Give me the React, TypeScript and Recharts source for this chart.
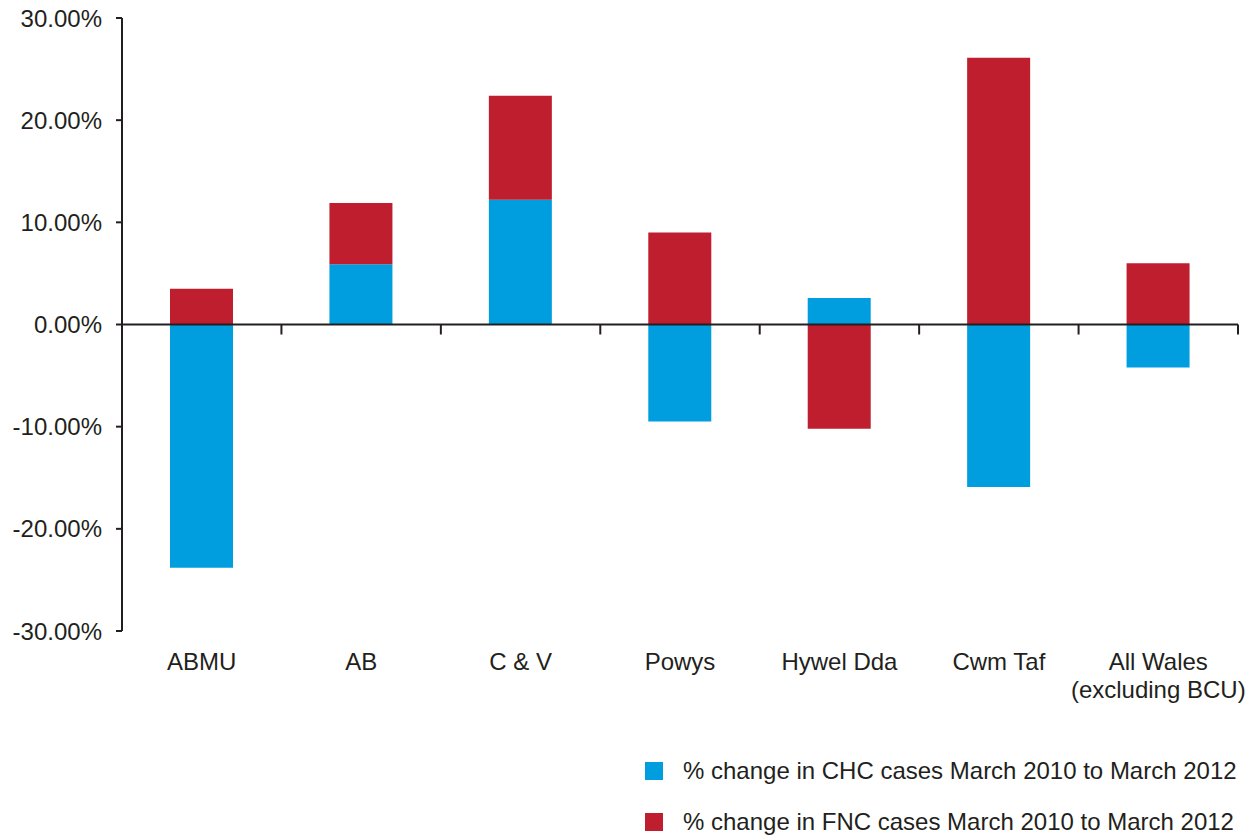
import React from 'react';
import { BarChart, Bar, XAxis, YAxis, ReferenceLine, Legend } from 'recharts';

const categories = ['ABMU', 'AB', 'C & V', 'Powys', 'Hywel Dda', 'Cwm Taf', 'All Wales\n(excluding BCU)'];
const chcChange = [-23.8, 5.9, 12.2, -9.5, 2.6, -15.9, -4.2];
const fncChange = [3.5, 6.0, 10.2, 9.0, -10.2, 26.1, 6.0];
const yTicks = [-30, -20, -10, 0, 10, 20, 30];

const seriesNames = {
  chc: '% change in CHC cases March 2010 to March 2012',
  fnc: '% change in FNC cases March 2010 to March 2012',
};

const data = categories.map((name, i) => ({
  name,
  chc: chcChange[i],
  fnc: fncChange[i],
}));

const BLUE = '#009EDF';
const RED = '#BE1E2E';
const INK = '#231F20';
const FONT = '"Liberation Sans", Arial, sans-serif';

const CategoryTick = (props: any) => {
  const { x, y, payload } = props;
  const lines = String(payload.value).split('\n');
  return (
    <text x={x} y={y} textAnchor="middle" fill={INK} fontSize={24} fontFamily={FONT}>
      {lines.map((line, i) => (
        <tspan key={i} x={x} dy={i === 0 ? '0.71em' : 28}>
          {line}
        </tspan>
      ))}
    </text>
  );
};

// zero line with small tick marks at the category boundaries
const ZeroAxis = (props: any) => {
  const { x1, x2, y1 } = props;
  const n = categories.length;
  const step = (x2 - x1) / n;
  return (
    <g>
      <line x1={x1} x2={x2} y1={y1} y2={y1} stroke={INK} strokeWidth={2} />
      {categories.map((_, i) => (
        <line key={i} x1={x1 + step * (i + 1)} x2={x1 + step * (i + 1)} y1={y1} y2={y1 + 10} stroke={INK} strokeWidth={2} />
      ))}
    </g>
  );
};

const LegendBox = (props: any) => {
  const items = props.payload || [];
  return (
    <div style={{ fontFamily: FONT, fontSize: 24, color: INK }}>
      {items.map((item: any, i: number) => (
        <div
          key={i}
          style={{ display: 'flex', alignItems: 'center', height: 28, marginBottom: 23, whiteSpace: 'nowrap' }}
        >
          <span style={{ width: 18, height: 18, background: item.color, display: 'inline-block', marginRight: 20 }} />
          <span>{item.value}</span>
        </div>
      ))}
    </div>
  );
};

export default function App() {
  return (
    <div style={{ width: 1248, height: 835 }}>
      <style>{'body { margin: 0; }'}</style>
      <BarChart
        width={1248}
        height={835}
        data={data}
        stackOffset="sign"
        barSize={63}
        margin={{ top: 18, right: 10, left: 0, bottom: 144 }}
      >
        <XAxis
          dataKey="name"
          interval={0}
          axisLine={false}
          tickLine={false}
          tickSize={0}
          tickMargin={22}
          height={60}
          tick={<CategoryTick />}
        />
        <YAxis
          domain={[-30, 30]}
          ticks={yTicks}
          width={122}
          interval={0}
          tickFormatter={(v: number) => `${v.toFixed(2)}%`}
          axisLine={{ stroke: INK, strokeWidth: 2 }}
          tickLine={{ stroke: INK, strokeWidth: 2 }}
          tickSize={6}
          tickMargin={14}
          tick={{ fill: INK, fontSize: 24, fontFamily: FONT }}
        />
        <Legend
          layout="horizontal"
          verticalAlign="middle"
          align="center"
          content={<LegendBox />}
          wrapperStyle={{ left: 645, top: 757, width: 600, height: 78 }}
        />
        <Bar dataKey="chc" name={seriesNames.chc} stackId="a" fill={BLUE} isAnimationActive={false} />
        <Bar dataKey="fnc" name={seriesNames.fnc} stackId="a" fill={RED} isAnimationActive={false} />
        <ReferenceLine y={0} shape={<ZeroAxis />} />
      </BarChart>
    </div>
  );
}
